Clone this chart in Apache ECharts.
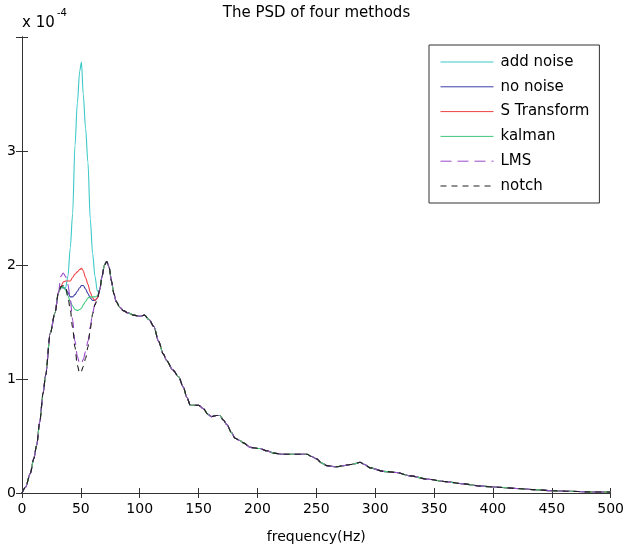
<!DOCTYPE html>
<html>
<head>
<meta charset="utf-8">
<script src="https://cdn.jsdelivr.net/npm/echarts@6/dist/echarts.min.js"></script>
<style>
html,body{margin:0;padding:0;background:#fff;}
#chart{width:627px;height:549px;}
</style>
</head>
<body>
<div id="chart"></div>
<script>
// Values in units of 1e-4
const seriesNames = ['add noise', 'no noise', 'S Transform', 'kalman', 'LMS', 'notch'];
const xTicks = [0, 50, 100, 150, 200, 250, 300, 350, 400, 450, 500];
const yTicks = [0, 1, 2, 3];

// shared low-frequency part (all methods coincide)
const lowFreq = [0, 3, 7, 10, 12.5, 15, 18, 20, 24, 28, 31];
const lowVal  = [0, 0.05, 0.17, 0.30, 0.42, 0.62, 0.88, 1.03, 1.40, 1.58, 1.76];

// middle part where methods differ
const midFreq     = [33, 35, 37, 39, 41, 43, 45, 47, 49, 50.5, 52, 54, 56, 58, 60, 62, 64];
const addNoiseMid = [1.81, 1.80, 1.80, 1.90, 2.15, 2.45, 3.05, 3.42, 3.70, 3.78, 3.50, 3.20, 2.90, 2.40, 2.10, 1.90, 1.77];
const noNoiseMid  = [1.80, 1.80, 1.79, 1.76, 1.72, 1.72, 1.74, 1.77, 1.80, 1.82, 1.82, 1.79, 1.75, 1.71, 1.69, 1.69, 1.71];
const sTransMid   = [1.81, 1.85, 1.86, 1.86, 1.86, 1.89, 1.92, 1.94, 1.96, 1.97, 1.95, 1.89, 1.83, 1.76, 1.71, 1.69, 1.71];
const kalmanMid   = [1.80, 1.81, 1.78, 1.73, 1.68, 1.64, 1.61, 1.60, 1.61, 1.62, 1.65, 1.68, 1.71, 1.72, 1.72, 1.72, 1.73];
const lmsMid      = [1.90, 1.93, 1.90, 1.83, 1.70, 1.52, 1.33, 1.20, 1.13, 1.14, 1.17, 1.24, 1.33, 1.46, 1.58, 1.66, 1.71];
const notchMid    = [1.81, 1.82, 1.81, 1.72, 1.61, 1.45, 1.28, 1.12, 1.05, 1.07, 1.11, 1.18, 1.28, 1.44, 1.57, 1.65, 1.70];

// shared high-frequency part
const highFreq = [66, 68, 70, 72, 74, 76, 78, 80, 83, 86, 90, 95, 100, 104, 108, 112, 116, 120, 123, 128, 133, 137, 140, 143, 147, 150, 154, 158, 161, 165, 168, 171, 174, 178, 181, 185, 188, 194, 202, 208, 214, 222, 232, 242, 246, 250, 255, 259, 267, 273, 279, 284, 287, 291, 296, 307, 318, 330, 345, 360, 375, 390, 405, 420, 435, 450, 465, 480, 500];
const highVal  = [1.78, 1.90, 2.00, 2.03, 1.98, 1.86, 1.75, 1.68, 1.63, 1.60, 1.58, 1.56, 1.55, 1.56, 1.52, 1.46, 1.33, 1.22, 1.16, 1.08, 1.02, 0.93, 0.84, 0.77, 0.77, 0.77, 0.74, 0.69, 0.67, 0.68, 0.68, 0.64, 0.60, 0.53, 0.48, 0.46, 0.44, 0.40, 0.39, 0.37, 0.35, 0.34, 0.34, 0.34, 0.32, 0.30, 0.26, 0.24, 0.23, 0.24, 0.25, 0.26, 0.27, 0.25, 0.22, 0.19, 0.18, 0.15, 0.12, 0.10, 0.08, 0.06, 0.05, 0.04, 0.03, 0.02, 0.015, 0.01, 0.008];

const midSets = [addNoiseMid, noNoiseMid, sTransMid, kalmanMid, lmsMid, notchMid];
const colors = ['#3cc8c8', '#3c3ca8', '#ee4040', '#40c878', '#9a48cc', '#202020'];
const dashes = ['solid', 'solid', 'solid', 'solid', [11, 6], [6, 5]];

function build(mid) {
  const pts = [];
  lowFreq.forEach((f, i) => pts.push([f, lowVal[i]]));
  midFreq.forEach((f, i) => pts.push([f, mid[i]]));
  highFreq.forEach((f, i) => pts.push([f, highVal[i]]));
  return pts;
}

const FONT = 'DejaVu Sans';
const chart = echarts.init(document.getElementById('chart'), null, {renderer: 'canvas'});
const axisLineStyle = {color: '#333', width: 1};

chart.setOption({
  animation: false,
  backgroundColor: '#fff',
  title: {
    text: 'The PSD of four methods',
    left: 316.5, top: 6, textAlign: 'center', padding: 0,
    textStyle: {fontFamily: FONT, fontSize: 15, fontWeight: 'normal', color: '#000'}
  },
  grid: {left: 22, right: 16, top: 37, bottom: 50, containLabel: false},
  legend: {
    data: seriesNames,
    orient: 'vertical',
    left: 429, top: 45,
    padding: [9, 10, 9, 11],
    itemWidth: 53, itemHeight: 16, itemGap: 8.8,
    backgroundColor: '#fff',
    borderColor: '#333', borderWidth: 1,
    itemStyle: {opacity: 0, borderWidth: 0},
    lineStyle: {width: 1},
    textStyle: {fontFamily: FONT, fontSize: 15, color: '#000', lineHeight: 16, padding: [0, 0, 0, 2]}
  },
  xAxis: [{
    type: 'value', min: 0, max: 500, interval: 50,
    name: 'frequency(Hz)', nameLocation: 'middle', nameGap: 37,
    nameTextStyle: {fontFamily: FONT, fontSize: 14, color: '#000'},
    axisLine: {lineStyle: axisLineStyle},
    axisTick: {inside: true, length: 5, lineStyle: axisLineStyle},
    axisLabel: {fontFamily: FONT, fontSize: 14, color: '#000', margin: 9,
      formatter: v => xTicks.includes(v) ? String(v) : ''},
    splitLine: {show: false}
  }, {
    type: 'value', min: 0, max: 500, interval: 50, position: 'top',
    axisLine: {lineStyle: axisLineStyle},
    axisTick: {inside: true, length: 5, lineStyle: axisLineStyle},
    axisLabel: {show: false}, splitLine: {show: false}
  }],
  yAxis: [{
    type: 'value', min: 0, max: 4, interval: 1,
    axisLine: {show: true, lineStyle: axisLineStyle},
    axisTick: {show: true, inside: true, length: 6, lineStyle: axisLineStyle},
    axisLabel: {fontFamily: FONT, fontSize: 14, color: '#000', margin: 6,
      formatter: v => yTicks.includes(v) ? String(v) : ''},
    splitLine: {show: false}
  }, {
    type: 'value', min: 0, max: 4, interval: 1, position: 'right',
    axisLine: {show: true, lineStyle: axisLineStyle},
    axisTick: {show: true, inside: true, length: 6, lineStyle: axisLineStyle},
    axisLabel: {show: false}, splitLine: {show: false}
  }],
  graphic: [
    {type: 'text', left: 22, top: 16, style: {text: 'x 10', fontFamily: FONT, fontSize: 15, fill: '#000'}},
    {type: 'text', left: 57, top: 8, style: {text: '-4', fontFamily: FONT, fontSize: 10, fill: '#000'}}
  ],
  series: seriesNames.map((name, i) => ({
    name: name,
    type: 'line',
    xAxisIndex: 0, yAxisIndex: 0,
    data: build(midSets[i]),
    symbol: 'none',
    smooth: 0.3,
    smoothMonotone: 'x',
    color: colors[i],
    lineStyle: {color: colors[i], width: 1.1, type: dashes[i]},
    z: 2 + i
  }))
});
</script>
</body>
</html>
